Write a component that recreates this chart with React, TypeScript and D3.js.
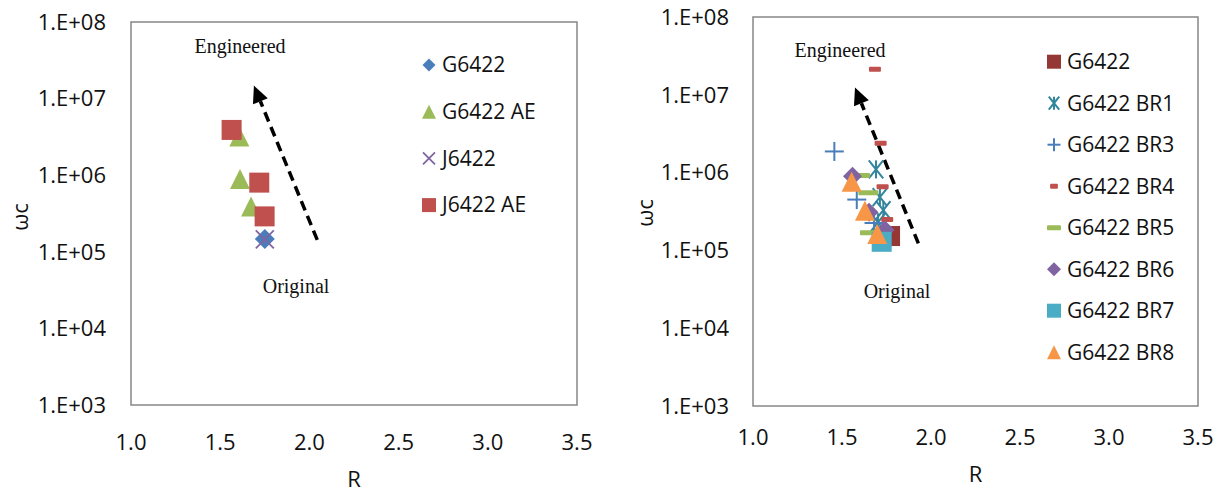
import React from "react";
import * as d3 from "d3";

// axis ticks
const xTicks = [1.0, 1.5, 2.0, 2.5, 3.0, 3.5];
const yTicks = [1e3, 1e4, 1e5, 1e6, 1e7, 1e8];

// left chart: R and wc values per series
const leftNames = ["G6422", "G6422 AE", "J6422", "J6422 AE"];
const lG6422R = [1.75];
const lG6422W = [1.47e5];
const lG6422AER = [1.607, 1.611, 1.673];
const lG6422AEW = [3.2e6, 8.9e5, 3.9e5];
const lJ6422R = [1.75];
const lJ6422W = [1.45e5];
const lJ6422AER = [1.564, 1.719, 1.749];
const lJ6422AEW = [3.9e6, 8.0e5, 2.9e5];

// right chart
const rightNames = ["G6422", "G6422 BR1", "G6422 BR3", "G6422 BR4", "G6422 BR5", "G6422 BR6", "G6422 BR7", "G6422 BR8"];
const rG6422R = [1.77];
const rG6422W = [1.53e5];
const rBR1R = [1.691, 1.713, 1.732, 1.702];
const rBR1W = [1.1e6, 4.85e5, 3.3e5, 2.3e5];
const rBR3R = [1.457, 1.583, 1.68];
const rBR3W = [1.87e6, 4.5e5, 2.25e5];
const rBR4R = [1.685, 1.717, 1.728, 1.754];
const rBR4W = [2.13e7, 2.38e6, 6.6e5, 2.5e5];
const rBR5R = [1.601, 1.648, 1.657];
const rBR5W = [9.2e5, 5.5e5, 1.69e5];
const rBR6R = [1.559, 1.652, 1.742];
const rBR6W = [9.0e5, 3.1e5, 1.83e5];
const rBR7R = [1.723];
const rBR7W = [1.29e5];
const rBR8R = [1.554, 1.629, 1.698];
const rBR8W = [7.6e5, 3.24e5, 1.63e5];

// arrows: [tail R, tail wc, tip R, tip wc]
const leftArrow = [2.044, 1.43e5, 1.689, 1.48e7];
const rightArrow = [1.929, 1.23e5, 1.573, 1.24e7];
// text notes: [R, wc]
const leftEngineered = [1.611, 3.94e7];
const leftOriginal = [1.925, 2.9e4];
const rightEngineered = [1.489, 3.06e7];
const rightOriginal = [1.809, 2.44e4];

const sans = "'Open Sans', sans-serif";
const serif = "'Liberation Serif', 'Times New Roman', serif";

const fmtY = (v: number) => {
  const e = Math.round(Math.log10(v));
  return "1.E+" + String(e).padStart(2, "0");
};

type Marker = { shape: string; color: string; size: number; lsize: number };

const drawMarker = (m: Marker, cx: number, cy: number, size: number, key: any) => {
  const s = size / 2;
  const c = m.color;
  switch (m.shape) {
    case "diamond":
      return <polygon key={key} points={`${cx},${cy - s} ${cx + s},${cy} ${cx},${cy + s} ${cx - s},${cy}`} fill={c} />;
    case "triangle":
      return <polygon key={key} points={`${cx},${cy - s} ${cx + s},${cy + s} ${cx - s},${cy + s}`} fill={c} />;
    case "square":
      return <rect key={key} x={cx - s} y={cy - s} width={size} height={size} fill={c} />;
    case "x":
      return (
        <g key={key} stroke={c} strokeWidth={1.8}>
          <line x1={cx - s} y1={cy - s} x2={cx + s} y2={cy + s} />
          <line x1={cx - s} y1={cy + s} x2={cx + s} y2={cy - s} />
        </g>
      );
    case "asterisk":
      return (
        <g key={key} stroke={c} strokeWidth={2}>
          <line x1={cx - s * 0.8} y1={cy - s} x2={cx + s * 0.8} y2={cy + s} />
          <line x1={cx - s * 0.8} y1={cy + s} x2={cx + s * 0.8} y2={cy - s} />
          <line x1={cx} y1={cy - s} x2={cx} y2={cy + s} />
        </g>
      );
    case "plus":
      return (
        <g key={key} stroke={c} strokeWidth={2}>
          <line x1={cx - s} y1={cy} x2={cx + s} y2={cy} />
          <line x1={cx} y1={cy - s} x2={cx} y2={cy + s} />
        </g>
      );
    case "dash":
      return <rect key={key} x={cx - s * 0.6} y={cy - 2.5} width={size * 0.6} height={5} rx={1} fill={c} />;
    case "longdash":
      return <rect key={key} x={cx - s} y={cy - 2.5} width={size} height={5} rx={1} fill={c} />;
  }
  return null;
};

type Series = { name: string; r: number[]; w: number[]; marker: Marker };

const Panel = ({ box, series, arrow, eng, orig, labelOffsets, legend }: any) => {
  const x = d3.scaleLinear().domain([1, 3.5]).range([box.left, box.right]);
  const y = d3.scaleLog().domain([1e3, 1e8]).range([box.bottom, box.top]);
  const [x1, y1, x2, y2] = arrow;
  const ax = x(x1), ay = y(y1), bx = x(x2), by = y(y2);
  const ang = Math.atan2(by - ay, bx - ax);
  const headL = 17, headW = 8;
  const hx = bx - headL * Math.cos(ang), hy = by - headL * Math.sin(ang);
  const px = -Math.sin(ang) * headW, py = Math.cos(ang) * headW;
  const cx = (box.left + box.right) / 2;
  return (
    <g>
      <rect x={box.left} y={box.top} width={box.right - box.left} height={box.bottom - box.top} fill="white" stroke="#878787" strokeWidth={1.5} />
      {yTicks.map((t) => (
        <text key={t} x={box.left - labelOffsets.y} y={y(t)} dy="0.35em" textAnchor="end" fontFamily={sans} fontSize={22} fill="#111">
          {fmtY(t)}
        </text>
      ))}
      {xTicks.map((t) => (
        <text key={t} x={x(t)} y={labelOffsets.xb} textAnchor="middle" fontFamily={sans} fontSize={22} fill="#111">
          {t.toFixed(1)}
        </text>
      ))}
      <text x={cx} y={labelOffsets.rb} textAnchor="middle" fontFamily={sans} fontSize={22} fill="#111">R</text>
      <text transform={`translate(${labelOffsets.wx},${labelOffsets.wy}) rotate(-90)`} textAnchor="middle" dy="0.35em" fontFamily={sans} fontSize={22} fill="#111">ωc</text>
      <text x={x(eng[0])} y={y(eng[1])} textAnchor="middle" fontFamily={serif} fontSize={20} fill="#111">Engineered</text>
      <text x={x(orig[0])} y={y(orig[1])} textAnchor="middle" fontFamily={serif} fontSize={20} fill="#111">Original</text>
      <line x1={ax} y1={ay} x2={hx} y2={hy} stroke="black" strokeWidth={3.5} strokeDasharray="10,6" />
      <polygon points={`${bx},${by} ${hx + px},${hy + py} ${hx - px},${hy - py}`} fill="black" />
      {series.map((s: Series) => (
        <g key={s.name}>{s.r.map((r, i) => drawMarker(s.marker, x(r), y(s.w[i]), s.marker.size, i))}</g>
      ))}
      {series.map((s: Series, i: number) => {
        const ly = legend.y0 + i * legend.step;
        return (
          <g key={"lg" + s.name}>
            {drawMarker(s.marker, legend.mx, ly, s.marker.lsize, "m")}
            <text x={legend.tx} y={ly} dy="0.35em" fontFamily={sans} fontSize={21} fill="#111">{s.name}</text>
          </g>
        );
      })}
    </g>
  );
};

const leftSeries: Series[] = [
  { name: leftNames[0], r: lG6422R, w: lG6422W, marker: { shape: "diamond", color: "#4A7EBB", size: 20, lsize: 13 } },
  { name: leftNames[1], r: lG6422AER, w: lG6422AEW, marker: { shape: "triangle", color: "#9BBB59", size: 20, lsize: 14 } },
  { name: leftNames[2], r: lJ6422R, w: lJ6422W, marker: { shape: "x", color: "#8064A2", size: 18, lsize: 12 } },
  { name: leftNames[3], r: lJ6422AER, w: lJ6422AEW, marker: { shape: "square", color: "#C0504D", size: 20, lsize: 14 } },
];

const rightSeries: Series[] = [
  { name: rightNames[0], r: rG6422R, w: rG6422W, marker: { shape: "square", color: "#953735", size: 20, lsize: 14 } },
  { name: rightNames[1], r: rBR1R, w: rBR1W, marker: { shape: "asterisk", color: "#31859C", size: 18, lsize: 13 } },
  { name: rightNames[2], r: rBR3R, w: rBR3W, marker: { shape: "plus", color: "#4A7EBB", size: 19, lsize: 13 } },
  { name: rightNames[3], r: rBR4R, w: rBR4W, marker: { shape: "dash", color: "#C0504D", size: 20, lsize: 13 } },
  { name: rightNames[4], r: rBR5R, w: rBR5W, marker: { shape: "longdash", color: "#9BBB59", size: 20, lsize: 14 } },
  { name: rightNames[5], r: rBR6R, w: rBR6W, marker: { shape: "diamond", color: "#8064A2", size: 19, lsize: 14 } },
  { name: rightNames[6], r: rBR7R, w: rBR7W, marker: { shape: "square", color: "#4BACC6", size: 20, lsize: 14 } },
  { name: rightNames[7], r: rBR8R, w: rBR8W, marker: { shape: "triangle", color: "#F79646", size: 20, lsize: 14 } },
];

export default function App() {
  return (
    <svg width={1229} height={493} style={{ position: "absolute", left: 0, top: 0, background: "white" }}>
      <rect width={1229} height={493} fill="white" />
      <Panel
        box={{ left: 131, right: 577, top: 22, bottom: 405 }}
        series={leftSeries}
        arrow={leftArrow}
        eng={leftEngineered}
        orig={leftOriginal}
        labelOffsets={{ y: 25, xb: 450, rb: 487, wx: 20, wy: 217 }}
        legend={{ mx: 429, tx: 442, y0: 65, step: 46.7 }}
      />
      <Panel
        box={{ left: 753, right: 1198, top: 17, bottom: 406 }}
        series={rightSeries}
        arrow={rightArrow}
        eng={rightEngineered}
        orig={rightOriginal}
        labelOffsets={{ y: 24, xb: 445, rb: 482, wx: 645, wy: 213 }}
        legend={{ mx: 1054, tx: 1067, y0: 61.7, step: 41.5 }}
      />
    </svg>
  );
}
